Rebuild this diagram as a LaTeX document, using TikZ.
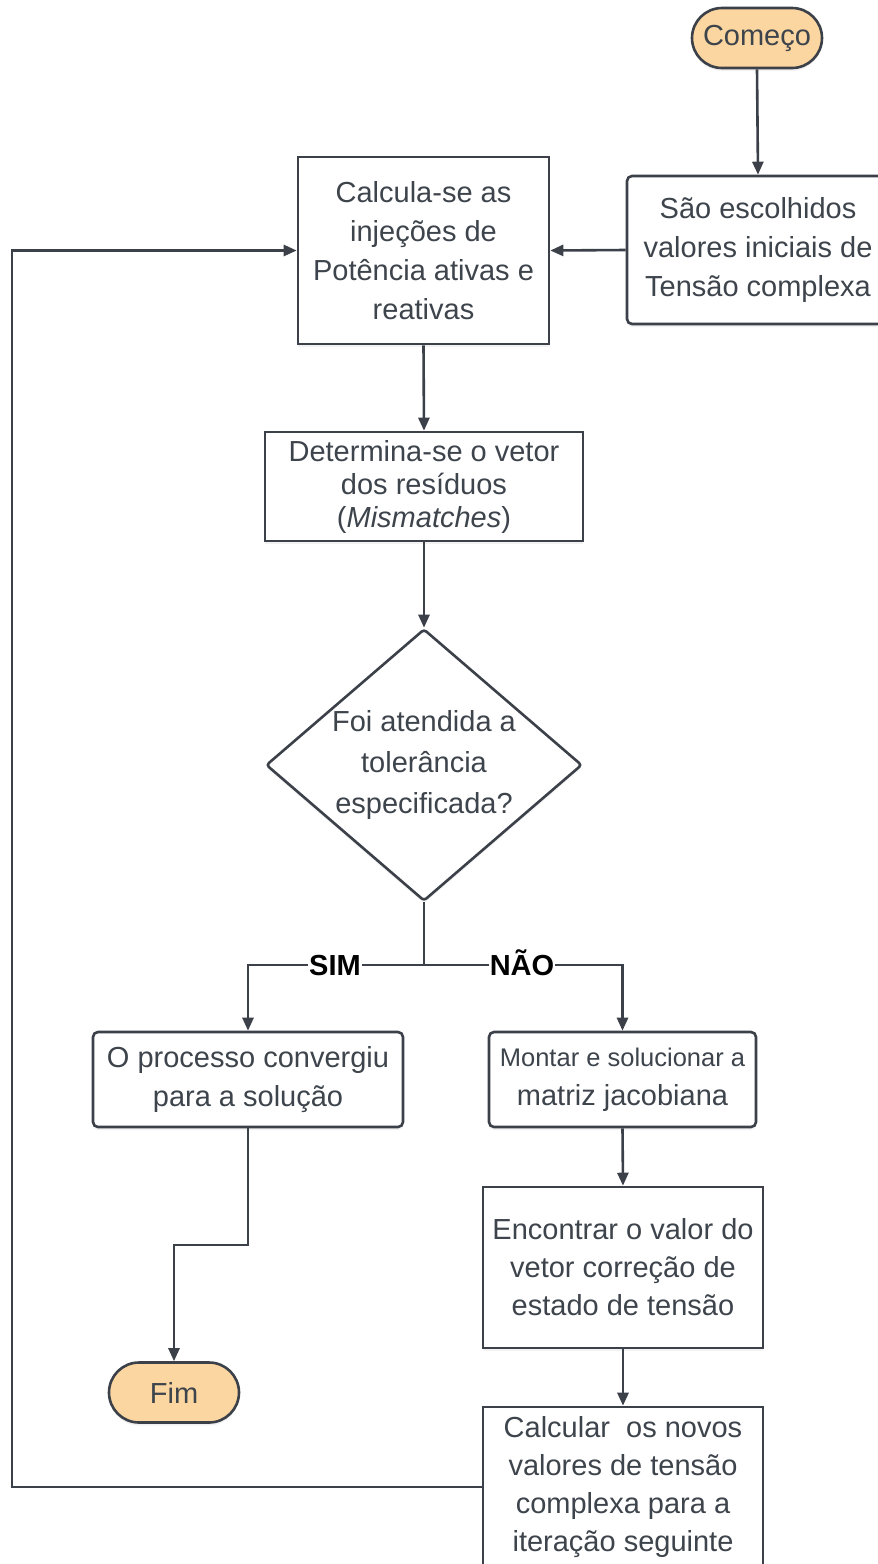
\documentclass[tikz,border=0pt]{standalone}
\usepackage{fontspec}
\setmainfont{Liberation Sans}
\usetikzlibrary{shapes.geometric,arrows.meta,shadows}
\definecolor{ln}{HTML}{3B4049}
\definecolor{txt}{HTML}{3E444C}
\definecolor{pill}{HTML}{FBD6A0}
\tikzset{
  base/.style={draw=ln, line width=2.6pt, fill=white, text=txt, align=center, inner sep=0pt,
    drop shadow={opacity=0.10, shadow xshift=0pt, shadow yshift=-3pt},
    font=\fontsize{29}{39}\selectfont},
  sqbox/.style={base, rectangle},
  rbox/.style={base, rectangle, rounded corners=5pt},
  term/.style={base, rectangle, rounded corners=30pt, fill=pill},
  dia/.style={base, diamond, rounded corners=3pt},
  conn/.style={draw=ln, line width=2.6pt},
  arr/.style={conn, -{Triangle[length=13pt,width=11pt]}},
  lbl/.style={fill=white, inner sep=1pt, anchor=base, text=black, font=\fontsize{29}{34}\selectfont\bfseries},
}
\begin{document}
\begin{tikzpicture}[x=1pt,y=-1pt]
\useasboundingbox (0,0) rectangle (878,1564);
\fill[white] (0,0) rectangle (878,1564);

\node[term, minimum width=130pt, minimum height=60pt] (start) at (757,38) {Começo};
\node[rbox, minimum width=262pt, minimum height=148pt] (sao) at (758,250) {São escolhidos\\valores iniciais de\\Tensão complexa};
\node[sqbox, minimum width=251pt, minimum height=187pt] (calc1) at (423.5,250.5) {Calcula-se as\\injeções de\\Potência ativas e\\reativas};
\node[sqbox, minimum width=318pt, minimum height=109pt, font=\fontsize{29}{33}\selectfont] (det) at (424,486.5) {Determina-se o vetor\\dos resíduos\\(\textit{Mismatches})};
\node[dia, minimum width=316pt, minimum height=272pt] (dec) at (424,765) {};
\node[text=txt, align=center, font=\fontsize{29}{41}\selectfont] (dectext) at (dec.center) {Foi atendida a\\tolerância\\especificada?};
\coordinate (split) at (424,965);
\node[rbox, minimum width=310pt, minimum height=95pt] (conv) at (248,1079.5) {O processo convergiu\\para a solução};
\node[rbox, minimum width=267pt, minimum height=95pt] (mont) at (622.5,1079.5) {{\fontsize{25.5}{30}\selectfont Montar e solucionar a}\\matriz jacobiana};
\node[sqbox, minimum width=280pt, minimum height=161pt, font=\fontsize{29}{38}\selectfont] (enc) at (623,1267.5) {Encontrar o valor do\\vetor correção de\\estado de tensão};
\node[sqbox, minimum width=280pt, minimum height=160pt, font=\fontsize{29}{38}\selectfont] (calc2) at (623,1487) {Calcular\ \ os novos\\valores de tensão\\complexa para a\\iteração seguinte};
\node[term, minimum width=130pt, minimum height=60pt] (fim) at (174,1392.5) {Fim};
\coordinate (loop) at (12,1487);
\coordinate (bend) at (248,1245);

\draw[arr] (start.south) -- (sao.north);
\draw[arr] (sao.west) -- (calc1.east);
\draw[arr] (calc1.south) -- (det.north);
\draw[arr] (det.south) -- (dec.north);
\draw[conn] (dec.south) -- (split);
\draw[arr] (split) -| (conv.north);
\draw[arr] (split) -| (mont.north);
\node[lbl] (sim) at (335,975) {SIM};
\node[lbl] (nao) at (522,975) {NÃO};
\draw[arr] (mont.south) -- (enc.north);
\draw[arr] (enc.south) -- (calc2.north);
\draw[arr] (conv.south) -- (bend) -| (fim.north);
\draw[arr] (calc2.west) -- (loop) |- (calc1.west);
\end{tikzpicture}
\end{document}
